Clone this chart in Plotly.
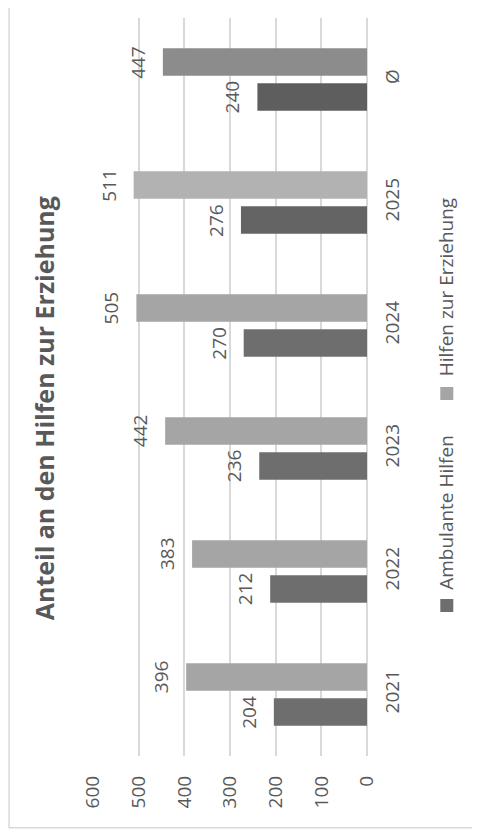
import plotly.graph_objects as go

# ---- data ----
categories = ["2021", "2022", "2023", "2024", "2025", "Ø"]
series_names = ["Ambulante Hilfen", "Hilfen zur Erziehung"]
ambulante = [204, 212, 236, 270, 276, 240]
hze = [396, 383, 442, 505, 511, 447]
value_ticks = [0, 100, 200, 300, 400, 500, 600]
title_text = "Anteil an den Hilfen zur Erziehung"

# ---- styles ----
OFF = 8  # page body margin of the html page
W, H = 480 - OFF, 838 - OFF
# plot area in screen pixels
SX0, SX1, SY0, SY1 = 92.7, 366.7, 18, 756
L, R, T, B = SX0 - OFF, W - (SX1 - OFF), SY0 - OFF, H - (SY1 - OFF)
PW, PH = W - L - R, H - T - B
TXT = "#595959"
FONT = "Open Sans"
dark_colors = ["#6E6E6E", "#6E6E6E", "#6E6E6E", "#6E6E6E", "#646464", "#5E5E5E"]
light_colors = ["#A5A5A5", "#A5A5A5", "#A5A5A5", "#A5A5A5", "#B2B2B2", "#8C8C8C"]
legend_colors = ["#6E6E6E", "#A5A5A5"]


def px_x(p):
    return (p - SX0) / PW


def px_y(p):
    return (SY1 - p) / PH


fig = go.Figure()
fig.add_trace(go.Bar(y=categories, x=ambulante, orientation="h", name=series_names[0],
                     marker=dict(color=dark_colors, line=dict(width=0))))
fig.add_trace(go.Bar(y=categories, x=hze, orientation="h", name=series_names[1],
                     marker=dict(color=light_colors, line=dict(width=0))))

annotations = []
# data labels (rotated, outside the bar end); y = category index on the category axis
for vals, ysh in ((ambulante, -17.5), (hze, 17.5)):
    for i, v in enumerate(vals):
        annotations.append(dict(x=v, y=i, xref="x", yref="y", text=str(v), showarrow=False,
                                textangle=-90, xanchor="right", yanchor="middle",
                                xshift=-10, yshift=ysh,
                                font=dict(family=FONT, size=19, color=TXT)))
# title
annotations.append(dict(x=px_x(44), y=px_y(408), xref="paper", yref="paper", text="<b>" + title_text + "</b>",
                        showarrow=False, textangle=-90, xanchor="center", yanchor="middle",
                        font=dict(family=FONT, size=25, color=TXT)))
# legend
legend_text_centers = [512.5, 287]
legend_sq = [(599, 612), (387, 400)]
shapes = []
for name, col, cy, (s0, s1) in zip(series_names, legend_colors, legend_text_centers, legend_sq):
    annotations.append(dict(x=px_x(446), y=px_y(cy), xref="paper", yref="paper", text=name,
                            showarrow=False, textangle=-90, xanchor="center", yanchor="middle",
                            font=dict(family=FONT, size=19, color=TXT)))
    shapes.append(dict(type="rect", xref="paper", yref="paper", x0=px_x(440), x1=px_x(453),
                       y0=px_y(s1), y1=px_y(s0), fillcolor=col, line=dict(width=0)))
# chart border
shapes.append(dict(type="rect", xref="paper", yref="paper", x0=px_x(OFF + 0.8), x1=px_x(520),
                   y0=px_y(827.7), y1=px_y(-20), line=dict(color="#D9D9D9", width=1.5),
                   fillcolor="rgba(0,0,0,0)", layer="below"))

fig.update_layout(
    template="none",
    width=W, height=H,
    margin=dict(l=L, r=R, t=T, b=B, pad=0, autoexpand=False),
    paper_bgcolor="white", plot_bgcolor="white",
    barmode="group", bargap=0.43, bargroupgap=0.217,
    showlegend=False,
    font=dict(family=FONT, size=19, color=TXT),
    annotations=annotations, shapes=shapes,
    xaxis=dict(range=[600, 0], tickvals=value_ticks, ticktext=[str(v) for v in value_ticks],
               automargin=False,
               tickangle=-90, showgrid=True, gridcolor="#D9D9D9", gridwidth=1.5,
               zeroline=True, zerolinecolor="#D9D9D9", zerolinewidth=1.5,
               showline=False, ticks="", ticklabelstandoff=15,
               tickfont=dict(family=FONT, size=19, color=TXT)),
    yaxis=dict(type="category", categoryorder="array", categoryarray=categories,
               range=[-0.5, len(categories) - 0.5], automargin=False,
               side="right", tickangle=-90, showgrid=False, zeroline=False, showline=False,
               ticks="", ticklabelstandoff=12,
               tickfont=dict(family=FONT, size=19, color=TXT)),
)

fig.write_html("out.html")
